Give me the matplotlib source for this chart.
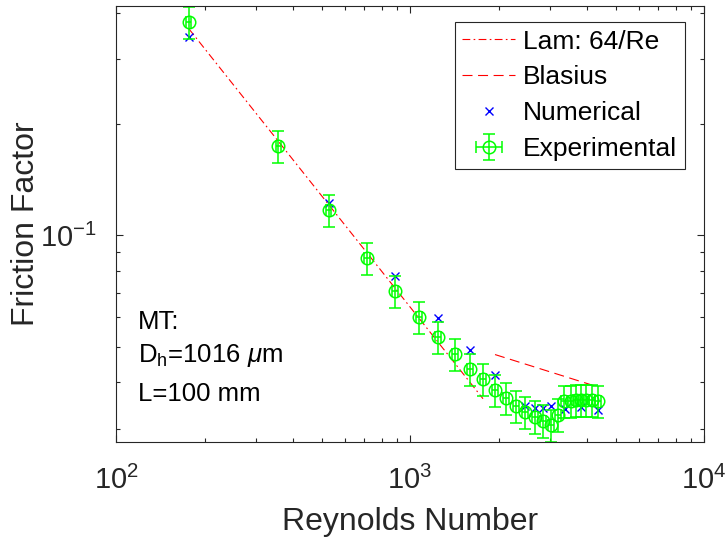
import numpy as np
import matplotlib
matplotlib.use("Agg")
import matplotlib.pyplot as plt
from matplotlib.ticker import NullFormatter

plt.rcParams['font.family'] = ['Liberation Sans', 'DejaVu Sans']
plt.rcParams['mathtext.fontset'] = 'custom'
plt.rcParams['mathtext.rm'] = 'Liberation Sans'
plt.rcParams['mathtext.it'] = 'Liberation Sans:italic'

re_exp = [177, 356, 530, 714, 889, 1073, 1245, 1422, 1600, 1771, 1946, 2121,
          2294, 2461, 2662, 2834, 3017, 3187, 3340, 3529, 3669, 3815, 3967,
          4159, 4361]
f_exp = [0.3775, 0.1744, 0.1171, 0.0868, 0.0707, 0.0601, 0.0531, 0.0478,
         0.0435, 0.0409, 0.0382, 0.0363, 0.0345, 0.0333, 0.0323, 0.0315,
         0.0307, 0.0327, 0.0356, 0.0356, 0.0358, 0.0358, 0.0358, 0.0358,
         0.0356]

# numerical results
re_num = [177, 530, 889, 1245, 1600, 1946, 2470, 2662, 2834, 3017, 3360,
          3815, 4361]
f_num = [0.3438, 0.1223, 0.0776, 0.0598, 0.0490, 0.0419, 0.0345, 0.0341,
         0.0341, 0.0345, 0.0339, 0.0343, 0.0337]

n_lam = 10  # first points use laminar correlation

re_exp = np.array(re_exp, dtype=float)
f_exp = np.array(f_exp)
re_lam = re_exp[:n_lam]
re_bla = re_exp[n_lam:]

dark = '#262626'
fig = plt.figure(figsize=(7.27, 5.44), dpi=100)
ax = fig.add_axes([0.1596, 0.1875, 0.8088, 0.8015])

ax.plot(re_lam, 64 / re_lam, color='red', lw=0.8, dashes=(7, 3, 1.5, 3),
        label='Lam: 64/Re')
ax.plot(re_bla, 0.316 / re_bla ** 0.25, color='red', lw=0.8, dashes=(9, 5),
        label='Blasius')
ax.plot(re_num, f_num, 'x', color='blue', ms=5.5, mew=1.0, label='Numerical')
ax.errorbar(re_exp, f_exp, yerr=0.1 * f_exp, xerr=0.02 * re_exp, fmt='o',
            color='#00ff00', mfc='none', ms=9, mew=1.1, elinewidth=1.1,
            capsize=4.3, capthick=1.1, label='Experimental')

ax.set_xscale('log')
ax.set_yscale('log')
ax.set_xlim(100, 10000)
ax.set_ylim(0.0276, 0.417)

ax.tick_params(which='both', direction='in', top=True, right=True,
               colors=dark, labelsize=21, width=0.8)
ax.tick_params(which='major', length=5)
ax.tick_params(which='minor', length=3)
ax.tick_params(axis='x', which='major', pad=17)
ax.tick_params(axis='y', which='major', pad=14)
ax.yaxis.set_minor_formatter(NullFormatter())
ax.xaxis.set_minor_formatter(NullFormatter())
for s in ax.spines.values():
    s.set_color(dark)
    s.set_linewidth(0.8)

ax.set_xlabel('Reynolds Number', fontsize=23, color=dark, labelpad=9)
ax.set_ylabel('Friction Factor', fontsize=23, color=dark, labelpad=-1)

ax.text(0.037, 0.276, 'MT:', transform=ax.transAxes, fontsize=18.5,
        va='center')
ax.text(0.037, 0.199, r'D$_\mathrm{h}$=1016 $\mu$m', transform=ax.transAxes,
        fontsize=18.5, va='center')
ax.text(0.037, 0.110, 'L=100 mm', transform=ax.transAxes, fontsize=18.5,
        va='center')

leg = ax.legend(loc='upper right', bbox_to_anchor=(0.968, 0.964),
                borderaxespad=0, fontsize=19, handlelength=2.0,
                labelspacing=0.45, borderpad=0.3, handletextpad=0.3,
                fancybox=False, framealpha=1)
leg.get_frame().set_edgecolor(dark)
leg.get_frame().set_linewidth(0.8)

fig.savefig('out.png', dpi=100)
